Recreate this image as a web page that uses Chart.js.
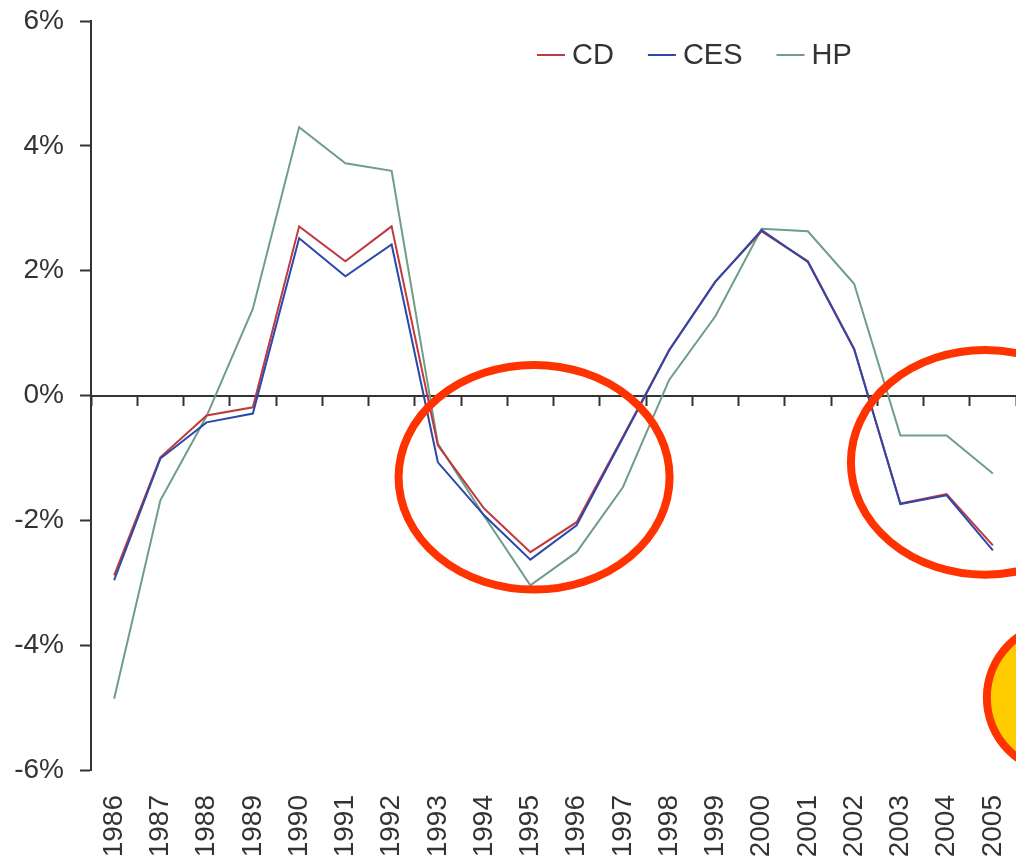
<!DOCTYPE html>
<html>
<head>
<meta charset="utf-8">
<script src="https://cdn.jsdelivr.net/npm/chart.js@4.4.0/dist/chart.umd.min.js"></script>
<style>
  html, body { margin: 0; padding: 0; background: #fff; }
  canvas { display: block; }
</style>
</head>
<body>
<canvas id="chart" width="1016" height="860"></canvas>
<script>
// years on the x axis
const years = ["1986", "1987", "1988", "1989", "1990", "1991", "1992", "1993", "1994", "1995",
               "1996", "1997", "1998", "1999", "2000", "2001", "2002", "2003", "2004", "2005"];

// series, in percent
const cdValues  = [-2.88, -0.99, -0.32, -0.19, 2.71, 2.15, 2.71, -0.80, -1.81, -2.51,
                   -2.03, -0.66, 0.73, 1.83, 2.63, 2.15, 0.75, -1.73, -1.58, -2.40];
const cesValues = [-2.96, -1.01, -0.43, -0.29, 2.52, 1.91, 2.42, -1.07, -1.92, -2.63,
                   -2.08, -0.68, 0.72, 1.82, 2.65, 2.14, 0.74, -1.74, -1.60, -2.48];
const hpValues  = [-4.86, -1.68, -0.33, 1.39, 4.30, 3.72, 3.60, -0.77, -1.93, -3.04,
                   -2.51, -1.47, 0.25, 1.27, 2.67, 2.63, 1.79, -0.64, -0.64, -1.25];

// y ticks
const yMin = -6, yMax = 6, yStep = 2;

Chart.defaults.font.family = "'Liberation Sans', Arial, sans-serif";
Chart.defaults.color = "#333";

// circles drawn over the chart, given in axis units (category index / percent)
const marks = [
  { x: 9.08,  y: -1.31, rx: 2.93, ry: 1.80, fill: null },
  { x: 18.83, y: -1.07, rx: 2.90, ry: 1.80, fill: null },
  { x: 20.47, y: -4.84, rx: 1.60, ry: 1.19, fill: "#ffcc00" }
];

const overlay = {
  id: "overlay",
  afterDraw(chart) {
    const ctx = chart.ctx;
    const xs = chart.scales.x, ys = chart.scales.y;
    const px = xs.getPixelForValue(1) - xs.getPixelForValue(0);
    const py = ys.getPixelForValue(0) - ys.getPixelForValue(1);

    ctx.save();
    marks.forEach(m => {
      ctx.beginPath();
      ctx.ellipse(xs.getPixelForValue(m.x), ys.getPixelForValue(m.y), m.rx * px, m.ry * py, 0, 0, Math.PI * 2);
      if (m.fill) {
        ctx.fillStyle = m.fill;
        ctx.fill();
      }
      ctx.lineWidth = 8;
      ctx.strokeStyle = "#ff3300";
      ctx.stroke();
    });

    // legend
    let lx = 537;
    const ly = 55;
    ctx.font = "29px 'Liberation Sans', Arial, sans-serif";
    ctx.textBaseline = "middle";
    ctx.textAlign = "left";
    chart.data.datasets.forEach(ds => {
      ctx.beginPath();
      ctx.moveTo(lx, ly);
      ctx.lineTo(lx + 28, ly);
      ctx.lineWidth = 2;
      ctx.strokeStyle = ds.borderColor;
      ctx.stroke();
      ctx.fillStyle = "#333";
      ctx.fillText(ds.label, lx + 35, ly + 1);
      lx += 35 + ctx.measureText(ds.label).width + 34;
    });
    ctx.restore();
  }
};

new Chart(document.getElementById("chart").getContext("2d"), {
  type: "line",
  data: {
    labels: years,
    datasets: [
      { label: "CD",  data: cdValues,  borderColor: "#c0393f", order: 1 },
      { label: "CES", data: cesValues, borderColor: "#2b48aa", order: 0 },
      { label: "HP",  data: hpValues,  borderColor: "#6f9d88", order: 2 }
    ]
  },
  options: {
    responsive: false,
    animation: false,
    layout: { padding: { top: 21, left: 0, right: 0, bottom: 0 } },
    elements: {
      line: { borderWidth: 2, tension: 0 },
      point: { radius: 0 }
    },
    plugins: {
      legend: { display: false },
      tooltip: { enabled: false }
    },
    scales: {
      x: {
        type: "category",
        offset: true,
        grid: { display: false, drawTicks: false },
        border: { display: false },
        ticks: {
          autoSkip: false,
          minRotation: 90,
          maxRotation: 90,
          padding: 25,
          font: { size: 28 },
          color: "#333"
        },
        afterFit: s => {
          s.height = 90;
          s.paddingLeft = 0;
          s.paddingRight = 0;
        }
      },
      x0: {
        type: "category",
        position: { y: 0 },
        offset: true,
        grid: {
          offset: true,
          drawOnChartArea: false,
          drawTicks: true,
          tickLength: 9,
          tickWidth: 2,
          color: "#333"
        },
        border: { display: true, color: "#333", width: 2 },
        ticks: { display: false },
        afterFit: s => {
          s.paddingLeft = 0;
          s.paddingRight = 0;
        }
      },
      y: {
        min: yMin,
        max: yMax,
        grid: {
          drawOnChartArea: false,
          drawTicks: true,
          tickLength: 11,
          tickWidth: 2,
          color: "#333"
        },
        border: { display: true, color: "#333", width: 2 },
        ticks: {
          stepSize: yStep,
          padding: 16,
          font: { size: 28 },
          color: "#333",
          callback: v => v + "%"
        },
        afterFit: s => {
          s.width = 91;
          s.paddingTop = 0;
          s.paddingBottom = 0;
        }
      }
    }
  },
  plugins: [overlay]
});
</script>
</body>
</html>
